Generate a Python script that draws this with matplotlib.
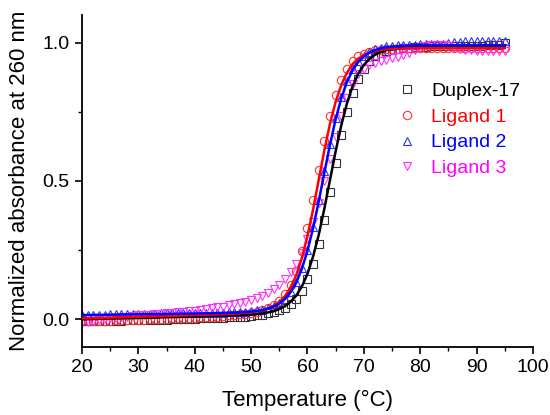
import numpy as np
import matplotlib
matplotlib.use("Agg")
import matplotlib.pyplot as plt
import matplotlib.ticker as ticker

plt.rcParams['font.family'] = ['Liberation Sans', 'DejaVu Sans']

# Temperatures (degC), one reading per degree
temps = list(range(20, 96))

# Measured normalized absorbance (markers)
duplex17 = [-0.008, -0.007, -0.007, -0.006, -0.006, -0.006, -0.005, -0.005, -0.004, -0.004,
            -0.003, -0.003, -0.002, -0.002, -0.001, -0.001, 0.0, 0.0, 0.001, 0.001, 0.002, 0.003, 0.003, 0.004,
            0.005, 0.006, 0.007, 0.008, 0.009, 0.010, 0.012, 0.014, 0.017, 0.021, 0.026, 0.033,
            0.041, 0.055, 0.075, 0.104, 0.145, 0.2, 0.272, 0.36, 0.46, 0.565, 0.665, 0.75, 0.818, 0.868,
            0.905, 0.932, 0.95, 0.962, 0.97, 0.975, 0.978, 0.98, 0.982, 0.983, 0.984, 0.985, 0.986,
            0.986, 0.987, 0.987, 0.988, 0.988, 0.988, 0.989, 0.989, 0.989, 0.99, 0.99, 0.99, 0.998]
ligand1 = [-0.004, -0.005, -0.006, -0.006, -0.005, -0.005, -0.004, -0.004, -0.003, -0.003, -0.002,
           -0.001, 0.0, 0.0, 0.001, 0.002, 0.003, 0.003, 0.004, 0.005, 0.006, 0.007, 0.008, 0.009, 0.010,
           0.013, 0.014, 0.016, 0.018, 0.02, 0.023, 0.027, 0.032, 0.04, 0.05, 0.066,
           0.09, 0.125, 0.175, 0.245, 0.33, 0.43, 0.54, 0.645, 0.735, 0.81, 0.865, 0.905, 0.932, 0.95,
           0.96, 0.967, 0.972, 0.975, 0.977, 0.978, 0.978, 0.979, 0.979, 0.979, 0.98, 0.98, 0.98,
           0.98, 0.98, 0.98, 0.98, 0.98, 0.98, 0.98, 0.98, 0.98, 0.98, 0.98, 0.98, 0.98]
ligand2 = [0.016, 0.016, 0.017, 0.017, 0.017, 0.018, 0.018, 0.018, 0.019, 0.019, 0.019,
           0.02, 0.02, 0.02, 0.021, 0.021, 0.021, 0.022, 0.022, 0.022, 0.023, 0.023, 0.023, 0.023, 0.024,
           0.024, 0.025, 0.026, 0.027, 0.028, 0.03, 0.032, 0.035, 0.04, 0.048, 0.059,
           0.075, 0.1, 0.135, 0.185, 0.25, 0.335, 0.43, 0.535, 0.635, 0.727, 0.803, 0.86, 0.903, 0.933,
           0.953, 0.967, 0.976, 0.982, 0.986, 0.988, 0.99, 0.991, 0.992, 0.993, 0.994, 0.994, 0.995,
           0.995, 0.996, 1.0, 1.002, 1.003, 1.004, 1.005, 1.005, 1.006, 1.006, 1.006, 1.005, 1.005]
ligand3 = [-0.012, -0.01, -0.007, -0.003, 0.001, 0.004, 0.006, 0.008, 0.01, 0.012, 0.014,
           0.015, 0.017, 0.018, 0.019, 0.021, 0.023, 0.025, 0.027, 0.029, 0.031, 0.034, 0.037, 0.04, 0.043,
           0.046, 0.05, 0.054, 0.059, 0.064, 0.07, 0.077, 0.085, 0.095, 0.108, 0.125,
           0.145, 0.17, 0.2, 0.24, 0.29, 0.35, 0.42, 0.5, 0.58, 0.66, 0.735, 0.8, 0.85, 0.885,
           0.905, 0.918, 0.927, 0.933, 0.938, 0.943, 0.948, 0.955, 0.963, 0.972, 0.98, 0.986, 0.99,
           0.993, 0.992, 0.988, 0.982, 0.977, 0.974, 0.972, 0.971, 0.97, 0.97, 0.97, 0.969, 0.969]

# Fitted curves (lines)
fit_duplex17 = [0.0, 0.0005, 0.001, 0.0015, 0.002, 0.0025, 0.003, 0.0035, 0.004, 0.0045, 0.005,
                0.0055, 0.006, 0.0065, 0.007, 0.0075, 0.008, 0.0085, 0.009, 0.0095, 0.010, 0.0105, 0.011,
                0.0115, 0.012, 0.0128, 0.0134, 0.0141, 0.015, 0.016,
                0.017, 0.019, 0.021, 0.025, 0.029, 0.037, 0.047, 0.063, 0.085, 0.118,
                0.164, 0.227, 0.305, 0.400, 0.504, 0.607, 0.701, 0.780, 0.842, 0.887,
                0.919, 0.941, 0.956, 0.966, 0.973, 0.977, 0.980, 0.982, 0.983, 0.984,
                0.985, 0.985, 0.985, 0.985, 0.985, 0.985, 0.985, 0.985, 0.985, 0.985,
                0.985, 0.985, 0.985, 0.985, 0.985, 0.985]
fit_ligand1 = [0.003, 0.0036, 0.0042, 0.0048, 0.0054, 0.006, 0.0066, 0.0072, 0.0078, 0.0084, 0.009,
               0.0096, 0.0102, 0.0108, 0.0114, 0.012, 0.0126, 0.0132, 0.0138, 0.0144, 0.015, 0.0156,
               0.0162, 0.0168, 0.0174, 0.0184, 0.0193, 0.0202, 0.0215, 0.023,
               0.025, 0.028, 0.032, 0.039, 0.048, 0.062, 0.083, 0.115, 0.159, 0.221,
               0.301, 0.397, 0.504, 0.611, 0.707, 0.786, 0.847, 0.891, 0.922, 0.942,
               0.955, 0.964, 0.970, 0.973, 0.976, 0.977, 0.978, 0.979, 0.98, 0.98,
               0.98, 0.98, 0.98, 0.98, 0.98, 0.98, 0.98, 0.98, 0.98, 0.98,
               0.98, 0.98, 0.98, 0.98, 0.98, 0.98]
fit_ligand2 = [0.015, 0.0153, 0.0156, 0.0159, 0.0162, 0.0165, 0.0168, 0.0171, 0.0174, 0.0177, 0.018,
               0.0183, 0.0186, 0.0189, 0.0192, 0.0195, 0.0198, 0.0201, 0.0204, 0.0207, 0.021, 0.0213,
               0.0216, 0.0219, 0.0222, 0.0231, 0.0234, 0.0241, 0.025, 0.026,
               0.028, 0.030, 0.033, 0.038, 0.046, 0.057, 0.073, 0.098, 0.132, 0.182,
               0.247, 0.330, 0.426, 0.530, 0.631, 0.723, 0.799, 0.857, 0.900, 0.930,
               0.950, 0.964, 0.973, 0.979, 0.983, 0.985, 0.987, 0.988, 0.989, 0.99,
               0.99, 0.99, 0.99, 0.99, 0.99, 0.99, 0.99, 0.99, 0.99, 0.99,
               0.99, 0.99, 0.99, 0.99, 0.99, 0.99]

series = [
    ("Duplex-17", duplex17, fit_duplex17, "s", "#333333", "black"),
    ("Ligand 1", ligand1, fit_ligand1, "o", "#ff3030", "red"),
    ("Ligand 2", ligand2, fit_ligand2, "^", "#3030ff", "blue"),
    ("Ligand 3", ligand3, None, "v", "#ff30ff", "#ff00ff"),
]

fig = plt.figure(figsize=(5.5, 4.15), dpi=100)
ax = fig.add_axes([0.149, 0.164, 0.82, 0.80])

handles = []
for name, data, fit, marker, mcolor, tcolor in series:
    h, = ax.plot(temps, data, linestyle='none', marker=marker, markersize=6,
                 markerfacecolor='none', markeredgecolor=mcolor, markeredgewidth=0.8,
                 label=name, zorder=2)
    handles.append(h)

for name, data, fit, marker, mcolor, tcolor in series:
    if fit is not None:
        ax.plot(temps, fit, color=tcolor, linewidth=1.8, zorder=3)

ax.set_xlim(20, 100)
ax.set_ylim(-0.1, 1.1)
ax.xaxis.set_major_locator(ticker.MultipleLocator(10))
ax.xaxis.set_minor_locator(ticker.MultipleLocator(5))
ax.yaxis.set_major_locator(ticker.FixedLocator([0.0, 0.5, 1.0]))
ax.yaxis.set_minor_locator(ticker.FixedLocator([0.25, 0.75]))
ax.yaxis.set_major_formatter(ticker.FormatStrFormatter('%.1f'))

for side in ['top', 'right']:
    ax.spines[side].set_visible(False)
for side in ['left', 'bottom']:
    ax.spines[side].set_linewidth(1.3)

ax.tick_params(which='major', direction='out', length=5, width=1.2, labelsize=14, pad=4)
ax.tick_params(which='minor', direction='out', length=3, width=1.0)

ax.set_xlabel("Temperature (°C)", fontsize=16, labelpad=10)
ax.set_ylabel("Normalized absorbance at 260 nm", fontsize=16, labelpad=9)

leg = ax.legend(handles=handles, loc='upper left', bbox_to_anchor=(0.66, 0.85),
                frameon=False, fontsize=14, handlelength=1.0, handletextpad=0.75,
                labelspacing=0.42, borderpad=0.4)
for text, s in zip(leg.get_texts(), series):
    text.set_color(s[5])

fig.savefig("out.png", dpi=100)
